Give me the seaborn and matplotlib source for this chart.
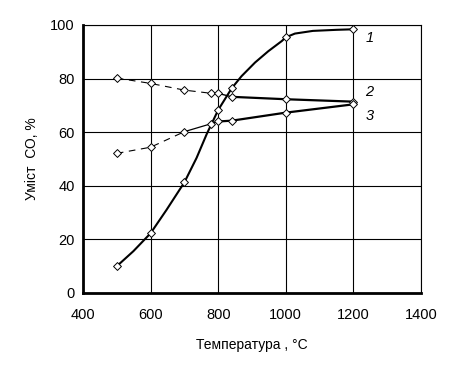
import matplotlib
matplotlib.use("Agg")
import matplotlib.pyplot as plt
import seaborn as sns
import pandas as pd

# Data
t1 = [500, 600, 700, 800, 840, 1000, 1200]
c1 = [10, 22.3, 41.3, 68.3, 76.4, 95.4, 98.4]
# path of curve 1 (includes points between markers)
t1_path = [500, 549, 600, 647, 700, 736, 766, 800, 840, 869, 909, 948, 988,
           1000, 1027, 1080, 1150, 1200]
c1_path = [10, 15.6, 22.3, 31, 41.3, 50.4, 59.3, 68.3, 76.4, 80.9, 86.0, 90.2,
           94.0, 95.4, 96.8, 97.8, 98.2, 98.4]

t2 = [500, 600, 700, 780, 800, 840, 1000, 1200]
c2 = [80.2, 78.2, 75.7, 74.5, 74.5, 73.2, 72.3, 71.4]

t3 = [500, 600, 700, 780, 800, 840, 1000, 1200]
c3 = [52.1, 54.4, 60.2, 63.2, 64.0, 64.3, 67.3, 70.4]

curve_labels = ["1", "2", "3"]
label_y = [95, 75, 66]

xticks = [400, 600, 800, 1000, 1200, 1400]
yticks = [0, 20, 40, 60, 80, 100]

sns.set_theme(style="white")
plt.rcParams['font.family'] = ['Liberation Sans', 'DejaVu Sans']

fig = plt.figure(figsize=(4.49, 3.75), dpi=100)
ax = fig.add_axes([83 / 449, 1 - 293 / 375, (421 - 83) / 449, (293 - 25) / 375])

ax.set_xlim(400, 1400)
ax.set_ylim(0, 100)
ax.set_xticks(xticks)
ax.set_yticks(yticks)
ax.grid(True, color="black", linewidth=0.8)
ax.set_axisbelow(True)

def seg(x, y, lw, ls, dashes=None):
    d = pd.DataFrame({"x": x, "y": y})
    l = sns.lineplot(data=d, x="x", y="y", ax=ax, sort=False, color="black",
                     linewidth=lw, linestyle=ls, estimator=None)
    line = l.lines[-1]
    line.set_solid_joinstyle("round")
    if dashes:
        line.set_dashes(dashes)
    return line

# Curve 1 (solid)
seg(t1_path, c1_path, 1.5, "-")
# Curve 2: dashed then solid
seg(t2[:5], c2[:5], 0.8, "--", (6, 5))
seg(t2[4:6], c2[4:6], 1.0, "-")
seg(t2[5:], c2[5:], 1.6, "-")
# Curve 3: dashed, thin, thick
seg(t3[:3], c3[:3], 0.8, "--", (6, 5))
seg(t3[2:5], c3[2:5], 0.9, "-")
seg(t3[4:], c3[4:], 1.6, "-")

# markers
for t, c in [(t1, c1), (t2, c2), (t3, c3)]:
    sns.scatterplot(x=t, y=c, ax=ax, marker="D", s=16, facecolor="white",
                    edgecolor="black", linewidth=0.7, zorder=5)

for lab, y in zip(curve_labels, label_y):
    ax.text(1235, y, lab, fontsize=10.5, style="italic", ha="left", va="center",
            color="black")

for side in ["left", "bottom"]:
    ax.spines[side].set_linewidth(2)
    ax.spines[side].set_color("black")
for side in ["top", "right"]:
    ax.spines[side].set_linewidth(0.8)
    ax.spines[side].set_color("black")

ax.tick_params(axis="both", length=0, labelsize=10.5, colors="black", pad=6)
ax.tick_params(axis="x", pad=11)
ax.set_xlabel("Температура , °С", fontsize=10, color="black", labelpad=11)
ax.set_ylabel("Умiст  СО, %", fontsize=10, color="black", labelpad=8)

fig.savefig("out.png", dpi=100)
